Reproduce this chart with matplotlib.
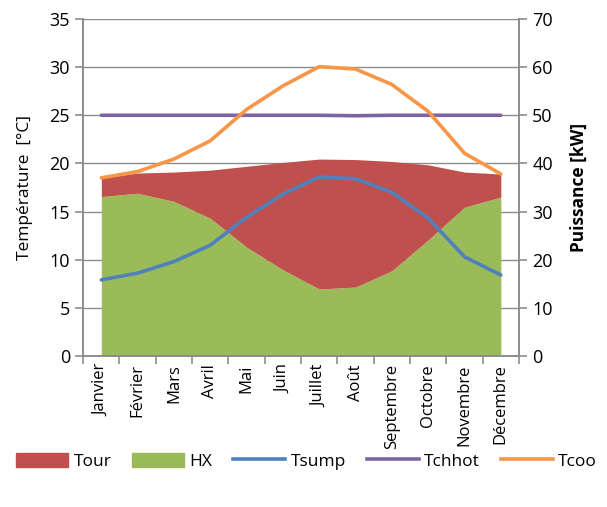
import numpy as np
import matplotlib.pyplot as plt
from matplotlib.patches import Patch
from matplotlib.lines import Line2D

plt.rcParams['font.family'] = ['Open Sans', 'DejaVu Sans']

mois = ["Janvier", "Février", "Mars", "Avril", "Mai", "Juin", "Juillet",
        "Août", "Septembre", "Octobre", "Novembre", "Décembre"]

# puissance [kW]
hx = [33.1, 33.8, 32.1, 28.6, 22.6, 17.9, 13.9, 14.3, 17.7, 24.1, 30.9, 33.0]
tour = [3.9, 4.2, 6.1, 10.0, 16.8, 22.3, 27.0, 26.5, 22.7, 15.6, 7.3, 4.8]

# temperatures [°C]
tsump = [7.9, 8.6, 9.8, 11.5, 14.4, 16.8, 18.6, 18.4, 17.0, 14.3, 10.3, 8.4]
tchhot = [25.0, 25.0, 25.0, 25.0, 25.0, 25.0, 25.0, 24.95, 25.0, 25.0, 25.0, 25.0]
tcoo = [18.5, 19.15, 20.45, 22.35, 25.6, 28.05, 30.05, 29.8, 28.2, 25.4, 21.05, 18.9]

c_tour = "#C0504D"
c_hx = "#9BBB59"
c_sump = "#4F81BD"
c_hot = "#8064A2"
c_coo = "#F79646"
grid_c = "#8C8C8C"

x = np.arange(len(mois))
hx = np.array(hx)
tot = hx + np.array(tour)

fig = plt.figure(figsize=(6.07, 5.07), dpi=100)
ax1 = fig.add_axes([0.137, 0.298, 0.718, 0.6645])
ax2 = ax1.twinx()

# areas on the power axis
ax2.fill_between(x, 0, hx, color=c_hx, lw=0, zorder=2)
ax2.fill_between(x, hx, tot, color=c_tour, lw=0, zorder=2)
ax2.set_ylim(0, 70)
ax2.set_yticks(np.arange(0, 71, 10))
ax2.yaxis.grid(True, color=grid_c, lw=1)
ax2.set_axisbelow(True)
ax2.set_ylabel("Puissance [kW]", fontsize=12.5, fontweight="bold", labelpad=12)

# temperature lines on top
ax1.set_zorder(ax2.get_zorder() + 1)
ax1.patch.set_visible(False)
ax1.plot(x, tsump, color=c_sump, lw=2.6, solid_capstyle="round")
ax1.plot(x, tchhot, color=c_hot, lw=2.6, solid_capstyle="round")
ax1.plot(x, tcoo, color=c_coo, lw=2.6, solid_capstyle="round")
ax1.set_ylim(0, 35)
ax1.set_yticks(np.arange(0, 36, 5))
ax1.set_xlim(-0.5, 11.5)
ax1.set_ylabel("Température  [°C]", fontsize=12.5, labelpad=12)

ax1.set_xticks(np.arange(-0.5, 12, 1))
ax1.set_xticklabels([])
ax1.set_xticks(x, minor=True)
ax1.set_xticklabels(mois, minor=True, rotation=90, fontsize=12)
ax1.tick_params(axis="x", which="minor", length=0, pad=6)
ax1.tick_params(axis="x", which="major", length=6, color=grid_c, width=1.2)

for ax in (ax1, ax2):
    ax.tick_params(axis="y", length=6, color=grid_c, width=1.2, labelsize=13)
    for s in ax.spines.values():
        s.set_color(grid_c)
        s.set_linewidth(1.2)
    ax.spines["top"].set_visible(False)

handles = [Patch(color=c_tour, label="Tour"), Patch(color=c_hx, label="HX"),
           Line2D([], [], color=c_sump, lw=2.6, label="Tsump"),
           Line2D([], [], color=c_hot, lw=2.6, label="Tchhot"),
           Line2D([], [], color=c_coo, lw=2.6, label="Tcoo")]
fig.legend(handles=handles, loc="center", bbox_to_anchor=(0.505, 0.09), ncol=5,
           frameon=False, fontsize=12.5, handlelength=3.0, handleheight=0.9,
           columnspacing=1.2, handletextpad=0.3)

fig.savefig("out.png", dpi=100)
